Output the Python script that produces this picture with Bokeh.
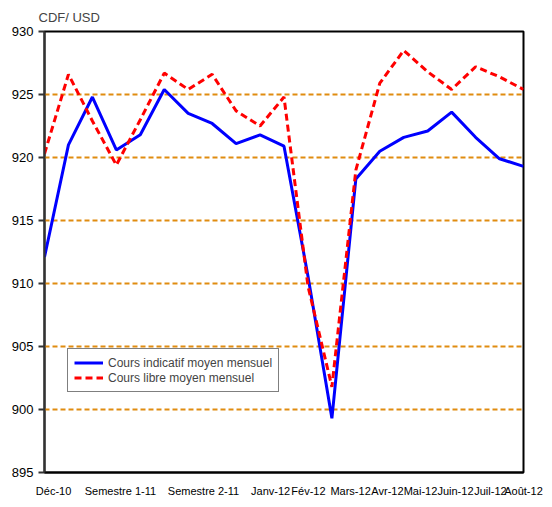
from bokeh.plotting import figure
from bokeh.models import FixedTicker, Legend, LegendItem, Range1d
from bokeh.embed import file_html
from bokeh.resources import INLINE

# ---- data ----
months = ["Déc-10", "Jan-11", "Fév-11", "Mars-11", "Avr-11", "Mai-11", "Juin-11",
          "Juil-11", "Août-11", "Sept-11", "Oct-11", "Nov-11", "Déc-11",
          "Janv-12", "Fév-12", "Mars-12", "Avr-12", "Mai-12", "Juin-12", "Juil-12", "Août-12"]
cours_indicatif = [912.1, 921.0, 924.8, 920.6, 921.8, 925.4, 923.5, 922.7, 921.1, 921.8,
                   920.9, 910.6, 899.3, 918.3, 920.5, 921.6, 922.1, 923.6, 921.6, 919.9, 919.3]
cours_libre = [920.3, 926.6, 922.9, 919.4, 923.0, 926.7, 925.4, 926.6, 923.7, 922.5,
               924.8, 909.8, 901.8, 919.0, 925.9, 928.5, 926.8, 925.4, 927.2, 926.4, 925.4]
tick_labels = ["Déc-10", "Semestre 1-11", "Semestre 2-11", "Janv-12", "Fév-12", "Mars-12",
               "Avr-12", "Mai-12", "Juin-12", "Juil-12", "Août-12"]
tick_positions = [0.38, 3.17, 6.64, 9.44, 11.02, 12.78, 14.32, 15.70, 17.16, 18.62, 20.0]
y_ticks = [895, 900, 905, 910, 915, 920, 925, 930]
unit_label = "CDF/ USD"
series_names = ["Cours indicatif moyen mensuel", "Cours libre moyen mensuel"]

x = list(range(len(months)))

FONT = "Liberation Sans"

p = figure(width=544, height=499, output_backend="svg", toolbar_location=None,
           x_range=Range1d(0, len(months) - 1), y_range=Range1d(895, 930),
           min_border_left=44, min_border_right=21, min_border_top=31, min_border_bottom=26)

p.title.text = unit_label
p.title.text_font = FONT
p.title.text_font_size = "13px"
p.title.text_font_style = "normal"
p.title.align = "left"
p.title.offset = -6
p.title.standoff = 13

p.outline_line_color = "black"
p.outline_line_width = 2
p.background_fill_color = "white"
p.border_fill_color = "white"

# grid
p.xgrid.visible = False
p.ygrid.ticker = FixedTicker(ticks=[900, 905, 910, 915, 920, 925])
p.ygrid.grid_line_color = "#E08C10"
p.ygrid.grid_line_width = 2
p.ygrid.grid_line_dash = "5 3"

# y axis
p.yaxis.ticker = FixedTicker(ticks=y_ticks)
p.yaxis.axis_line_color = "#333333"
p.yaxis.axis_line_width = 2
p.yaxis.major_tick_out = 6
p.yaxis.major_tick_in = 0
p.yaxis.major_tick_line_color = "#333333"
p.yaxis.major_tick_line_width = 2
p.yaxis.minor_tick_line_color = None
p.yaxis.major_label_text_font = FONT
p.yaxis.major_label_text_font_size = "13px"
p.yaxis.major_label_text_color = "black"
p.yaxis.major_label_standoff = 5

# x axis
p.xaxis.ticker = FixedTicker(ticks=tick_positions)
p.xaxis.major_label_overrides = {t: l for t, l in zip(tick_positions, tick_labels)}
p.xaxis.axis_line_color = "black"
p.xaxis.axis_line_width = 2
p.xaxis.major_tick_line_color = None
p.xaxis.minor_tick_line_color = None
p.xaxis.major_label_text_font = FONT
p.xaxis.major_label_text_font_size = "11px"
p.xaxis.major_label_text_color = "black"
p.xaxis.major_label_standoff = 6

r1 = p.line(x, cours_indicatif, line_color="#0000FF", line_width=3)
r2 = p.line(x, cours_libre, line_color="#FF0000", line_width=3, line_dash="7 4")

legend = Legend(items=[LegendItem(label=series_names[0], renderers=[r1]),
                       LegendItem(label=series_names[1], renderers=[r2])],
                location=(23, 80))
legend.border_line_color = "black"
legend.border_line_width = 1.5
legend.background_fill_color = "white"
legend.background_fill_alpha = 1
legend.label_text_font = FONT
legend.label_text_font_size = "12px"
legend.label_height = 15
legend.glyph_height = 15
legend.glyph_width = 29
legend.spacing = 0
legend.padding = 6
legend.margin = 0
legend.label_standoff = 5
p.add_layout(legend, "center")

open("out.html", "w").write(file_html(p, INLINE))
